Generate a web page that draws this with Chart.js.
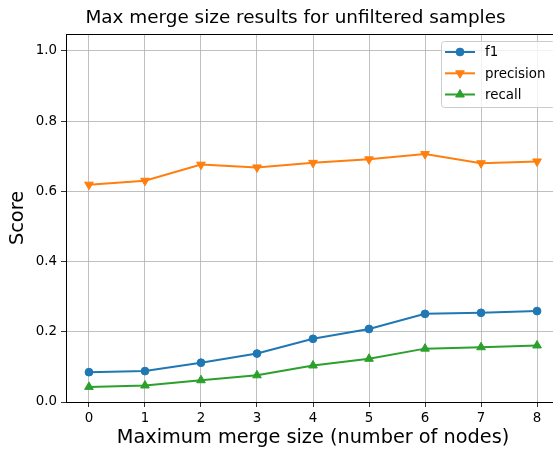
<!DOCTYPE html>
<html>
<head>
<meta charset="utf-8">
<script src="https://cdn.jsdelivr.net/npm/chart.js@4.4.0/dist/chart.umd.min.js"></script>
<style>
html,body{margin:0;padding:0;overflow:hidden;background:#fff;width:553px;height:449px;}
#wrap{position:absolute;left:0;top:0;width:600px;height:449px;}
</style>
</head>
<body>
<div id="wrap"><canvas id="c" width="600" height="449"></canvas></div>
<script>
const categories = [0, 1, 2, 3, 4, 5, 6, 7, 8];
const f1 = [0.085, 0.088, 0.112, 0.138, 0.180, 0.208, 0.251, 0.254, 0.259];
const precision = [0.619, 0.630, 0.676, 0.668, 0.681, 0.691, 0.706, 0.680, 0.685];
const recall = [0.043, 0.047, 0.062, 0.076, 0.104, 0.123, 0.152, 0.156, 0.161];
const xTicks = [0, 1, 2, 3, 4, 5, 6, 7, 8];
const yTicks = [0.0, 0.2, 0.4, 0.6, 0.8, 1.0];
const titleText = 'Max merge size results for unfiltered samples';
const xLabel = 'Maximum merge size (number of nodes)';
const yLabel = 'Score';

const FONT = "'DejaVu Sans', sans-serif";
const mk = (vals) => categories.map((c, i) => ({x: c, y: vals[i]}));

const seriesDefs = [
  {label: 'f1', data: f1, color: '#1f77b4', style: 'circle', rot: 0, r: 3.9},
  {label: 'precision', data: precision, color: '#ff7f0e', style: 'triangle', rot: 180, r: 5},
  {label: 'recall', data: recall, color: '#2ca02c', style: 'triangle', rot: 0, r: 5}
];

function drawMarker(ctx, s, x, y) {
  ctx.save();
  ctx.fillStyle = s.color;
  ctx.strokeStyle = s.color;
  ctx.lineWidth = 1;
  Chart.helpers.drawPoint(ctx, {pointStyle: s.style, radius: s.r, rotation: s.rot, borderWidth: 1}, x, y);
  ctx.restore();
}

const decor = {
  id: 'decor',
  afterDraw(chart) {
    const ctx = chart.ctx;
    const a = chart.chartArea;
    ctx.save();
    ctx.strokeStyle = '#000';
    ctx.lineWidth = 1;
    ctx.strokeRect(a.left + 0.5, a.top + 0.5, a.right - a.left - 1, a.bottom - a.top);
    ctx.fillStyle = '#000';
    ctx.textAlign = 'center';
    ctx.textBaseline = 'middle';
    ctx.font = '18.4px ' + FONT;
    ctx.fillText(titleText, 295.5, 18);
    ctx.font = '19.3px ' + FONT;
    ctx.fillText(xLabel, (a.left + a.right) / 2, 438);
    ctx.save();
    ctx.translate(18, (a.top + a.bottom) / 2);
    ctx.rotate(-Math.PI / 2);
    ctx.fillText(yLabel, 0, 0);
    ctx.restore();
    const lx = 441, ly = 41, lw = 114, lh = 66;
    ctx.beginPath();
    if (ctx.roundRect) ctx.roundRect(lx + 0.5, ly + 0.5, lw, lh, 3); else ctx.rect(lx + 0.5, ly + 0.5, lw, lh);
    ctx.fillStyle = 'rgba(255,255,255,0.8)';
    ctx.fill();
    ctx.strokeStyle = '#cccccc';
    ctx.lineWidth = 1;
    ctx.stroke();
    const rows = [52, 73.3, 94.5];
    ctx.font = '13.4px ' + FONT;
    ctx.textAlign = 'left';
    seriesDefs.forEach((s, i) => {
      const y = rows[i];
      ctx.strokeStyle = s.color;
      ctx.lineWidth = 2;
      ctx.beginPath();
      ctx.moveTo(445, y);
      ctx.lineTo(475, y);
      ctx.stroke();
      drawMarker(ctx, s, 460, y);
      ctx.fillStyle = '#000';
      ctx.fillText(s.label, 485, y + 1);
    });
    ctx.restore();
  }
};

new Chart(document.getElementById('c'), {
  type: 'line',
  data: {
    datasets: seriesDefs.map(s => ({
      label: s.label,
      data: mk(s.data),
      borderColor: s.color,
      backgroundColor: s.color,
      borderWidth: 2,
      pointStyle: s.style,
      pointRotation: s.rot,
      pointRadius: s.r,
      pointBorderWidth: 1,
      pointBackgroundColor: s.color,
      pointBorderColor: s.color,
      tension: 0
    }))
  },
  options: {
    responsive: false,
    animation: false,
    devicePixelRatio: 1,
    layout: {padding: {top: 34, left: 0, right: 40, bottom: 0}},
    plugins: {legend: {display: false}, title: {display: false}, tooltip: {enabled: false}},
    scales: {
      x: {
        type: 'linear',
        min: -0.41, max: 8.41,
        afterFit(s) { s.height = 47; },
        afterBuildTicks(s) { s.ticks = xTicks.map(v => ({value: v})); },
        grid: {color: '#b0b0b0', lineWidth: 0.8, tickColor: '#000', tickLength: 5, drawTicks: true},
        border: {display: true, color: '#000', width: 1},
        ticks: {color: '#000', font: {family: FONT, size: 13.4}, padding: 3, maxRotation: 0, callback: v => String(v)}
      },
      y: {
        min: 0, max: 1.048,
        afterFit(s) { s.width = 66; },
        afterBuildTicks(s) { s.ticks = yTicks.map(v => ({value: v})); },
        grid: {color: '#b0b0b0', lineWidth: 0.8, tickColor: '#000', tickLength: 5, drawTicks: true},
        border: {display: true, color: '#000', width: 1},
        ticks: {color: '#000', font: {family: FONT, size: 13.4}, padding: 4, callback: v => v.toFixed(1)}
      }
    }
  },
  plugins: [decor]
});
</script>
</body>
</html>
